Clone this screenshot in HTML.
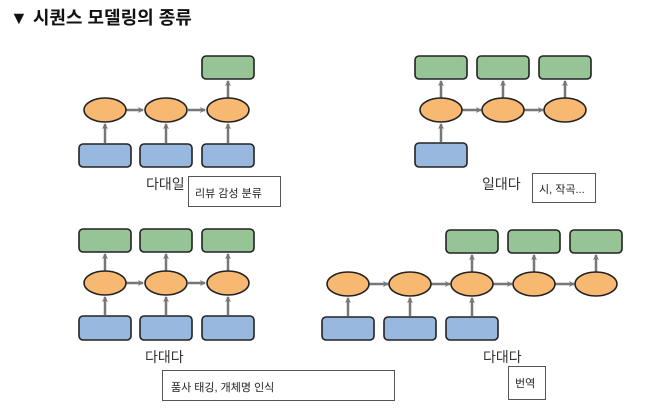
<!DOCTYPE html>
<html><head><meta charset="utf-8"><style>
html,body{margin:0;padding:0;background:#fff;width:667px;height:411px;overflow:hidden}
svg{display:block}
text{font-family:"Liberation Sans","Noto Sans CJK KR",sans-serif}
.g{fill:#97c497;stroke:#222;stroke-width:1.6}
.b{fill:#98b8e0;stroke:#222;stroke-width:1.6}
.o{fill:#f7b872;stroke:#222;stroke-width:1.6}
.a{stroke:#777;stroke-width:2.5;fill:none}
.lb{fill:#fff;stroke:#555;stroke-width:1}
</style></head><body>
<svg width="667" height="411" viewBox="0 0 667 411">
<defs><marker id="m" markerWidth="6" markerHeight="6" refX="5" refY="3" orient="auto" markerUnits="userSpaceOnUse" viewBox="0 0 6 6"><path d="M0,0 L6,3 L0,6 L1.5,3 Z" fill="#777"/></marker></defs>
<text x="10" y="24" font-size="18" font-weight="bold" fill="#111">▼ 시퀀스 모델링의 종류</text>

<!-- Panel 1 -->
<rect class="g" x="202" y="56" width="52" height="23" rx="4"/>
<rect class="b" x="79" y="144" width="52" height="23" rx="4"/>
<rect class="b" x="140" y="144" width="52" height="23" rx="4"/>
<rect class="b" x="202" y="144" width="52" height="23" rx="4"/>
<line class="a" x1="105" y1="143" x2="105" y2="124" marker-end="url(#m)"/>
<line class="a" x1="166" y1="143" x2="166" y2="124" marker-end="url(#m)"/>
<line class="a" x1="228" y1="143" x2="228" y2="124" marker-end="url(#m)"/>
<line class="a" x1="228" y1="98" x2="228" y2="81" marker-end="url(#m)"/>
<line class="a" x1="126" y1="110" x2="143" y2="110" marker-end="url(#m)"/>
<line class="a" x1="188" y1="110" x2="205" y2="110" marker-end="url(#m)"/>
<ellipse class="o" cx="105" cy="110" rx="21" ry="12"/>
<ellipse class="o" cx="166" cy="110" rx="21" ry="12"/>
<ellipse class="o" cx="228" cy="110" rx="21" ry="12"/>
<text x="146" y="189" font-size="14" fill="#333">다대일</text>
<rect class="lb" x="188.5" y="176.5" width="92" height="30"/>
<text x="195" y="197" font-size="11" fill="#222">리뷰 감성 분류</text>

<!-- Panel 2 -->
<rect class="g" x="415" y="56" width="52" height="23" rx="4"/>
<rect class="g" x="477" y="56" width="52" height="23" rx="4"/>
<rect class="g" x="539" y="56" width="52" height="23" rx="4"/>
<rect class="b" x="415" y="143" width="52" height="24" rx="4"/>
<line class="a" x1="441" y1="142" x2="441" y2="124" marker-end="url(#m)"/>
<line class="a" x1="441" y1="98" x2="441" y2="81" marker-end="url(#m)"/>
<line class="a" x1="503" y1="98" x2="503" y2="81" marker-end="url(#m)"/>
<line class="a" x1="565" y1="98" x2="565" y2="81" marker-end="url(#m)"/>
<line class="a" x1="462" y1="110" x2="481" y2="110" marker-end="url(#m)"/>
<line class="a" x1="524" y1="110" x2="543" y2="110" marker-end="url(#m)"/>
<ellipse class="o" cx="441" cy="110" rx="21" ry="12"/>
<ellipse class="o" cx="503" cy="110" rx="21" ry="12"/>
<ellipse class="o" cx="565" cy="110" rx="21" ry="12"/>
<text x="482" y="189" font-size="14" fill="#333">일대다</text>
<rect class="lb" x="532.5" y="173.5" width="63" height="29"/>
<text x="539" y="193" font-size="11" fill="#222">시, 작곡...</text>

<!-- Panel 3 -->
<rect class="g" x="79" y="229" width="52" height="23" rx="4"/>
<rect class="g" x="140" y="229" width="52" height="23" rx="4"/>
<rect class="g" x="202" y="229" width="52" height="23" rx="4"/>
<rect class="b" x="79" y="316" width="52" height="24" rx="4"/>
<rect class="b" x="140" y="316" width="52" height="24" rx="4"/>
<rect class="b" x="202" y="316" width="52" height="24" rx="4"/>
<line class="a" x1="105" y1="315" x2="105" y2="297" marker-end="url(#m)"/>
<line class="a" x1="166" y1="315" x2="166" y2="297" marker-end="url(#m)"/>
<line class="a" x1="228" y1="315" x2="228" y2="297" marker-end="url(#m)"/>
<line class="a" x1="105" y1="271" x2="105" y2="254" marker-end="url(#m)"/>
<line class="a" x1="166" y1="271" x2="166" y2="254" marker-end="url(#m)"/>
<line class="a" x1="228" y1="271" x2="228" y2="254" marker-end="url(#m)"/>
<line class="a" x1="126" y1="283" x2="143" y2="283" marker-end="url(#m)"/>
<line class="a" x1="188" y1="283" x2="205" y2="283" marker-end="url(#m)"/>
<ellipse class="o" cx="105" cy="283" rx="21" ry="12"/>
<ellipse class="o" cx="166" cy="283" rx="21" ry="12"/>
<ellipse class="o" cx="228" cy="283" rx="21" ry="12"/>
<text x="145" y="362" font-size="14" fill="#333">다대다</text>
<rect class="lb" x="162.5" y="370.5" width="232" height="30"/>
<text x="171" y="391" font-size="11" fill="#222">품사 태깅, 개체명 인식</text>

<!-- Panel 4 -->
<rect class="g" x="446" y="230" width="52" height="23" rx="4"/>
<rect class="g" x="508" y="230" width="52" height="23" rx="4"/>
<rect class="g" x="570" y="230" width="52" height="23" rx="4"/>
<rect class="b" x="322" y="317" width="52" height="23" rx="4"/>
<rect class="b" x="384" y="317" width="52" height="23" rx="4"/>
<rect class="b" x="446" y="317" width="52" height="23" rx="4"/>
<line class="a" x1="348" y1="316" x2="348" y2="298" marker-end="url(#m)"/>
<line class="a" x1="410" y1="316" x2="410" y2="298" marker-end="url(#m)"/>
<line class="a" x1="472" y1="316" x2="472" y2="298" marker-end="url(#m)"/>
<line class="a" x1="472" y1="272" x2="472" y2="255" marker-end="url(#m)"/>
<line class="a" x1="534" y1="272" x2="534" y2="255" marker-end="url(#m)"/>
<line class="a" x1="596" y1="272" x2="596" y2="255" marker-end="url(#m)"/>
<line class="a" x1="369" y1="284" x2="388" y2="284" marker-end="url(#m)"/>
<line class="a" x1="431" y1="284" x2="450" y2="284" marker-end="url(#m)"/>
<line class="a" x1="493" y1="284" x2="512" y2="284" marker-end="url(#m)"/>
<line class="a" x1="555" y1="284" x2="574" y2="284" marker-end="url(#m)"/>
<ellipse class="o" cx="348" cy="284" rx="21" ry="12"/>
<ellipse class="o" cx="410" cy="284" rx="21" ry="12"/>
<ellipse class="o" cx="472" cy="284" rx="21" ry="12"/>
<ellipse class="o" cx="534" cy="284" rx="21" ry="12"/>
<ellipse class="o" cx="596" cy="284" rx="21" ry="12"/>
<text x="483" y="362" font-size="14" fill="#333">다대다</text>
<rect class="lb" x="508.5" y="366.5" width="37" height="33"/>
<text x="515" y="387" font-size="11" fill="#222">번역</text>
</svg>
</body></html>
